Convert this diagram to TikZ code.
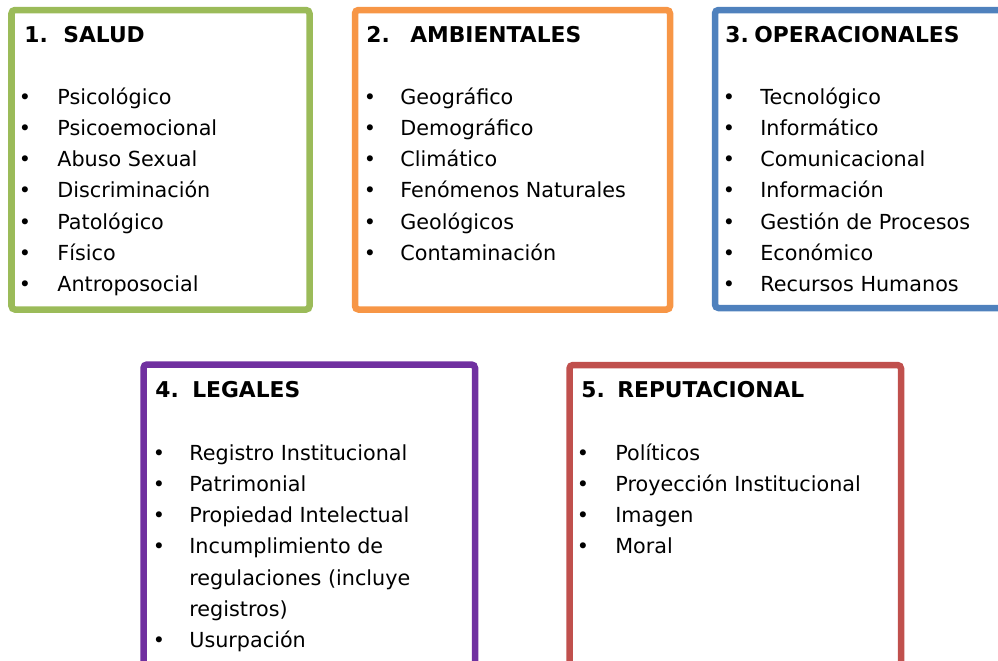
\documentclass[tikz,border=0pt]{standalone}
\usepackage{fontspec}
\setmainfont{DejaVu Sans}
\usepackage{tikz}
\usetikzlibrary{positioning}

\definecolor{cgreen}{HTML}{9BBB59}
\definecolor{corange}{HTML}{F79646}
\definecolor{cblue}{HTML}{4F81BD}
\definecolor{cpurple}{HTML}{7030A0}
\definecolor{cred}{HTML}{C0504D}

\tikzset{
  box/.style={draw, line width=3.7pt, rounded corners=2pt},
  ttl/.style={anchor=base west, inner sep=0pt, font=\fontsize{12.4pt}{15pt}\selectfont\bfseries},
  itm/.style={anchor=base west, inner sep=0pt, font=\fontsize{11.8pt}{14pt}\selectfont},
  dot/.style={anchor=base, inner sep=0pt, font=\fontsize{11.8pt}{14pt}\selectfont}
}

\begin{document}
\begin{tikzpicture}[x=0.02cm, y=-0.02cm]
    \useasboundingbox (0,0) rectangle (998,660);

    % 1. Salud
    \draw[box, cgreen] (11.5,10) rectangle (309.5,309.5);
    \node[ttl] (s-n) at (24,42) {1.};
    \node[ttl] (s-t) at (63,42) {SALUD};
    \foreach \t [count=\i from 0] in {Psicológico, Psicoemocional, Abuso Sexual,
        Discriminación, Patológico, Físico, Antroposocial} {
        \node[dot] (s-b\i) at (25,{104+31.3*\i}) {•};
        \node[itm] (s-\i) at (57,{104+31.3*\i}) {\t};
    }

    % 2. Ambientales
    \draw[box, corange] (355,10) rectangle (670,309.5);
    \node[ttl] (a-n) at (366,42) {2.};
    \node[ttl] (a-t) at (410,42) {AMBIENTALES};
    \foreach \t [count=\i from 0] in {Geográfico, Demográfico, Climático,
        Fenómenos Naturales, Geológicos, Contaminación} {
        \node[dot] (a-b\i) at (370,{104+31.3*\i}) {•};
        \node[itm] (a-\i) at (400,{104+31.3*\i}) {\t};
    }

    % 3. Operacionales
    \draw[box, cblue] (715,10) rectangle (1005,308);
    \node[ttl] (o-n) at (725,42) {3.};
    \node[ttl] (o-t) at (754,42) {OPERACIONALES};
    \foreach \t [count=\i from 0] in {Tecnológico, Informático, Comunicacional,
        Información, Gestión de Procesos, Económico, Recursos Humanos} {
        \node[dot] (o-b\i) at (729,{104+31.3*\i}) {•};
        \node[itm] (o-\i) at (760,{104+31.3*\i}) {\t};
    }

    % 4. Legales
    \draw[box, cpurple] (143.5,364.5) rectangle (475,668);
    \node[ttl] (l-n) at (155,397) {4.};
    \node[ttl] (l-t) at (192,397) {LEGALES};
    \foreach \t/\b [count=\i from 0] in {Registro Institucional/1, Patrimonial/1,
        Propiedad Intelectual/1, Incumplimiento de/1, regulaciones (incluye/0,
        registros)/0, Usurpación/1} {
        \ifnum\b=1 \node[dot] (l-b\i) at (159,{460+31.3*\i}) {•}; \fi
        \node[itm] (l-\i) at (189,{460+31.3*\i}) {\t};
    }

    % 5. Reputacional
    \draw[box, cred] (569.5,365) rectangle (901,668);
    \node[ttl] (r-n) at (581,397) {5.};
    \node[ttl] (r-t) at (617,397) {REPUTACIONAL};
    \foreach \t [count=\i from 0] in {Políticos, Proyección Institucional, Imagen, Moral} {
        \node[dot] (r-b\i) at (583,{460+31.3*\i}) {•};
        \node[itm] (r-\i) at (615,{460+31.3*\i}) {\t};
    }
\end{tikzpicture}
\end{document}
